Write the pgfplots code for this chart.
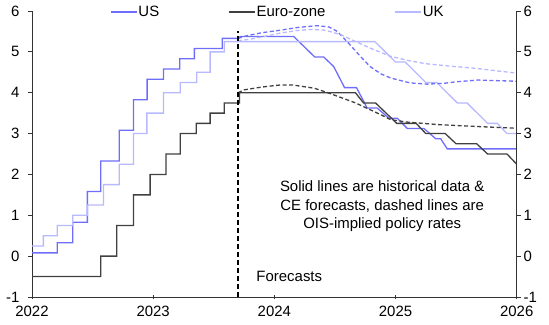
\documentclass[border=0pt]{standalone}
\usepackage{fontspec}
\setmainfont{Liberation Sans}
\usepackage{pgfplots}
\pgfplotsset{compat=1.18}
\definecolor{usblue}{RGB}{110,110,250}
\definecolor{ukblue}{RGB}{185,185,255}
\definecolor{eurogrey}{RGB}{64,64,64}
\newcommand{\cf}{\fontsize{15}{18}\selectfont}
\begin{document}
\begin{tikzpicture}
\path[use as bounding box] (-32bp,-28bp) rectangle (517bp,297bp);
\begin{axis}[
  at={(0,0)}, anchor=south west,
  scale only axis, width=484.7bp, height=286bp,
  xmin=2022, xmax=2026, ymin=-1, ymax=6,
  axis x line*=bottom, axis y line*=left,
  axis line style={line width=0.9bp, draw=black!80},
  xtick={2022,2023,2024,2025,2026},
  xticklabels={2022,2023,2024,2025,2026},
  ytick={-1,0,1,2,3,4,5,6},
  yticklabels={-1,0,1,2,3,4,5,6},
  x tick style={line width=0.9bp, draw=black!80}, 
  y tick style={line width=0.9bp, draw=black!80},
  xtick align=center, ytick align=outside,
  major tick length=4bp,
  tick label style={font=\cf},
  yticklabel style={xshift=-5bp},
  xticklabel style={yshift=-4bp},
  legend columns=3,
  legend style={draw=none, fill=none, font=\cf, at={(rel axis cs:0.1609,0.997)}, anchor=west,
    inner sep=0pt, nodes={inner sep=1bp},
    /tikz/every even column/.append style={column sep=68bp}},
  legend image code/.code={\draw[#1] (0bp,0bp) -- (26bp,0bp);},
]
% US solid
\addplot[usblue, line width=1.3bp] coordinates {
(2022.0,0.08)(2022.209,0.08)(2022.209,0.33)(2022.336,0.33)(2022.336,0.83)(2022.457,0.83)(2022.457,1.58)(2022.568,1.58)(2022.568,2.33)(2022.72,2.33)(2022.72,3.08)(2022.837,3.08)(2022.837,3.83)(2022.95,3.83)(2022.95,4.33)(2023.085,4.33)(2023.085,4.58)(2023.22,4.58)(2023.22,4.83)(2023.34,4.83)(2023.34,5.08)(2023.57,5.08)(2023.57,5.33)(2023.70,5.33)(2023.72,5.375)(2024.16,5.375)(2024.333,4.875)(2024.407,4.875)(2024.49,4.64)(2024.579,4.125)(2024.678,4.125)(2024.766,3.625)(2024.849,3.625)(2024.945,3.375)(2025.014,3.375)(2025.097,3.125)(2025.234,3.125)(2025.331,2.875)(2025.372,2.875)(2025.427,2.625)(2026.0,2.625)};
\addlegendentry{US}
% Euro solid
\addplot[eurogrey, line width=1.3bp] coordinates {
(2022.0,-0.5)(2022.568,-0.5)(2022.568,0)(2022.70,0)(2022.70,0.75)(2022.837,0.75)(2022.837,1.5)(2022.975,1.5)(2022.975,2.0)(2023.105,2.0)(2023.105,2.5)(2023.223,2.5)(2023.223,3.0)(2023.355,3.0)(2023.355,3.25)(2023.47,3.25)(2023.47,3.5)(2023.587,3.5)(2023.587,3.75)(2023.713,3.75)(2023.713,4.0)(2024.669,4.0)(2024.736,3.75)(2024.835,3.75)(2025.01,3.25)(2025.17,3.25)(2025.25,3.0)(2025.41,3.0)(2025.50,2.75)(2025.67,2.75)(2025.76,2.5)(2025.92,2.5)(2026.0,2.25)};
\addlegendentry{Euro-zone}
% UK solid
\addplot[ukblue, line width=1.3bp] coordinates {
(2022.0,0.25)(2022.094,0.25)(2022.094,0.5)(2022.209,0.5)(2022.209,0.75)(2022.336,0.75)(2022.336,1.0)(2022.457,1.0)(2022.457,1.25)(2022.59,1.25)(2022.59,1.75)(2022.72,1.75)(2022.72,2.25)(2022.837,2.25)(2022.837,3.0)(2022.948,3.0)(2022.948,3.5)(2023.085,3.5)(2023.085,4.0)(2023.223,4.0)(2023.223,4.25)(2023.36,4.25)(2023.36,4.5)(2023.47,4.5)(2023.47,5.0)(2023.587,5.0)(2023.587,5.25)(2024.83,5.25)(2025.0,4.75)(2025.08,4.75)(2025.25,4.25)(2025.34,4.25)(2025.51,3.75)(2025.59,3.75)(2025.76,3.25)(2025.84,3.25)(2025.92,3.0)(2026.0,3.0)};
\addlegendentry{UK}
% OIS dashed
\addplot[usblue, line width=1.3bp, dash pattern=on 4bp off 2.5bp, forget plot] coordinates {
(2023.70,5.33)(2023.78,5.40)(2023.90,5.47)(2024.05,5.53)(2024.20,5.60)(2024.35,5.64)(2024.45,5.61)(2024.52,5.50)(2024.61,5.22)(2024.71,4.89)(2024.79,4.64)(2024.88,4.46)(2024.96,4.36)(2025.12,4.24)(2025.26,4.21)(2025.40,4.23)(2025.51,4.27)(2025.68,4.31)(2025.90,4.29)(2026.0,4.28)};
\addplot[ukblue, line width=1.3bp, dash pattern=on 4bp off 2.5bp, forget plot] coordinates {
(2023.70,5.27)(2023.80,5.31)(2023.92,5.38)(2024.05,5.46)(2024.18,5.52)(2024.30,5.55)(2024.42,5.53)(2024.55,5.42)(2024.65,5.28)(2024.80,5.08)(2024.95,4.90)(2025.10,4.79)(2025.25,4.71)(2025.45,4.65)(2025.65,4.60)(2025.85,4.53)(2026.0,4.48)};
\addplot[eurogrey, line width=1.3bp, dash pattern=on 4bp off 2.5bp, forget plot] coordinates {
(2023.70,4.0)(2023.75,4.07)(2023.90,4.14)(2024.05,4.19)(2024.15,4.19)(2024.33,4.11)(2024.46,3.98)(2024.67,3.75)(2024.88,3.46)(2024.96,3.34)(2025.10,3.28)(2025.35,3.22)(2025.62,3.18)(2026.0,3.13)};
% forecast marker
\addplot[black, line width=1.1bp, dash pattern=on 5bp off 3bp, forget plot] coordinates {(2023.70,-1)(2023.70,5.52)};
\node[font=\cf, align=center, inner sep=0pt] at (axis cs:2024.89,1.22)
  {Solid lines are historical data \&\\[0.6bp] CE forecasts, dashed lines are\\[0.6bp] OIS-implied policy rates};
\node[font=\cf, anchor=west, inner sep=0pt] at (axis cs:2023.851,-0.49) {Forecasts};
\end{axis}
\begin{axis}[
  at={(0,0)}, anchor=south west,
  scale only axis, width=484.7bp, height=286bp,
  xmin=2022, xmax=2026, ymin=-1, ymax=6,
  axis x line=none, axis y line*=right,
  axis line style={line width=0.9bp, draw=black!80},
  ytick={-1,0,1,2,3,4,5,6},
  yticklabels={-1,0,1,2,3,4,5,6},
  y tick style={line width=0.9bp, draw=black!80},
  ytick align=outside, major tick length=4bp,
  tick label style={font=\cf},
  yticklabel style={xshift=-0.5bp},
]
\end{axis}
\end{tikzpicture}
\end{document}
